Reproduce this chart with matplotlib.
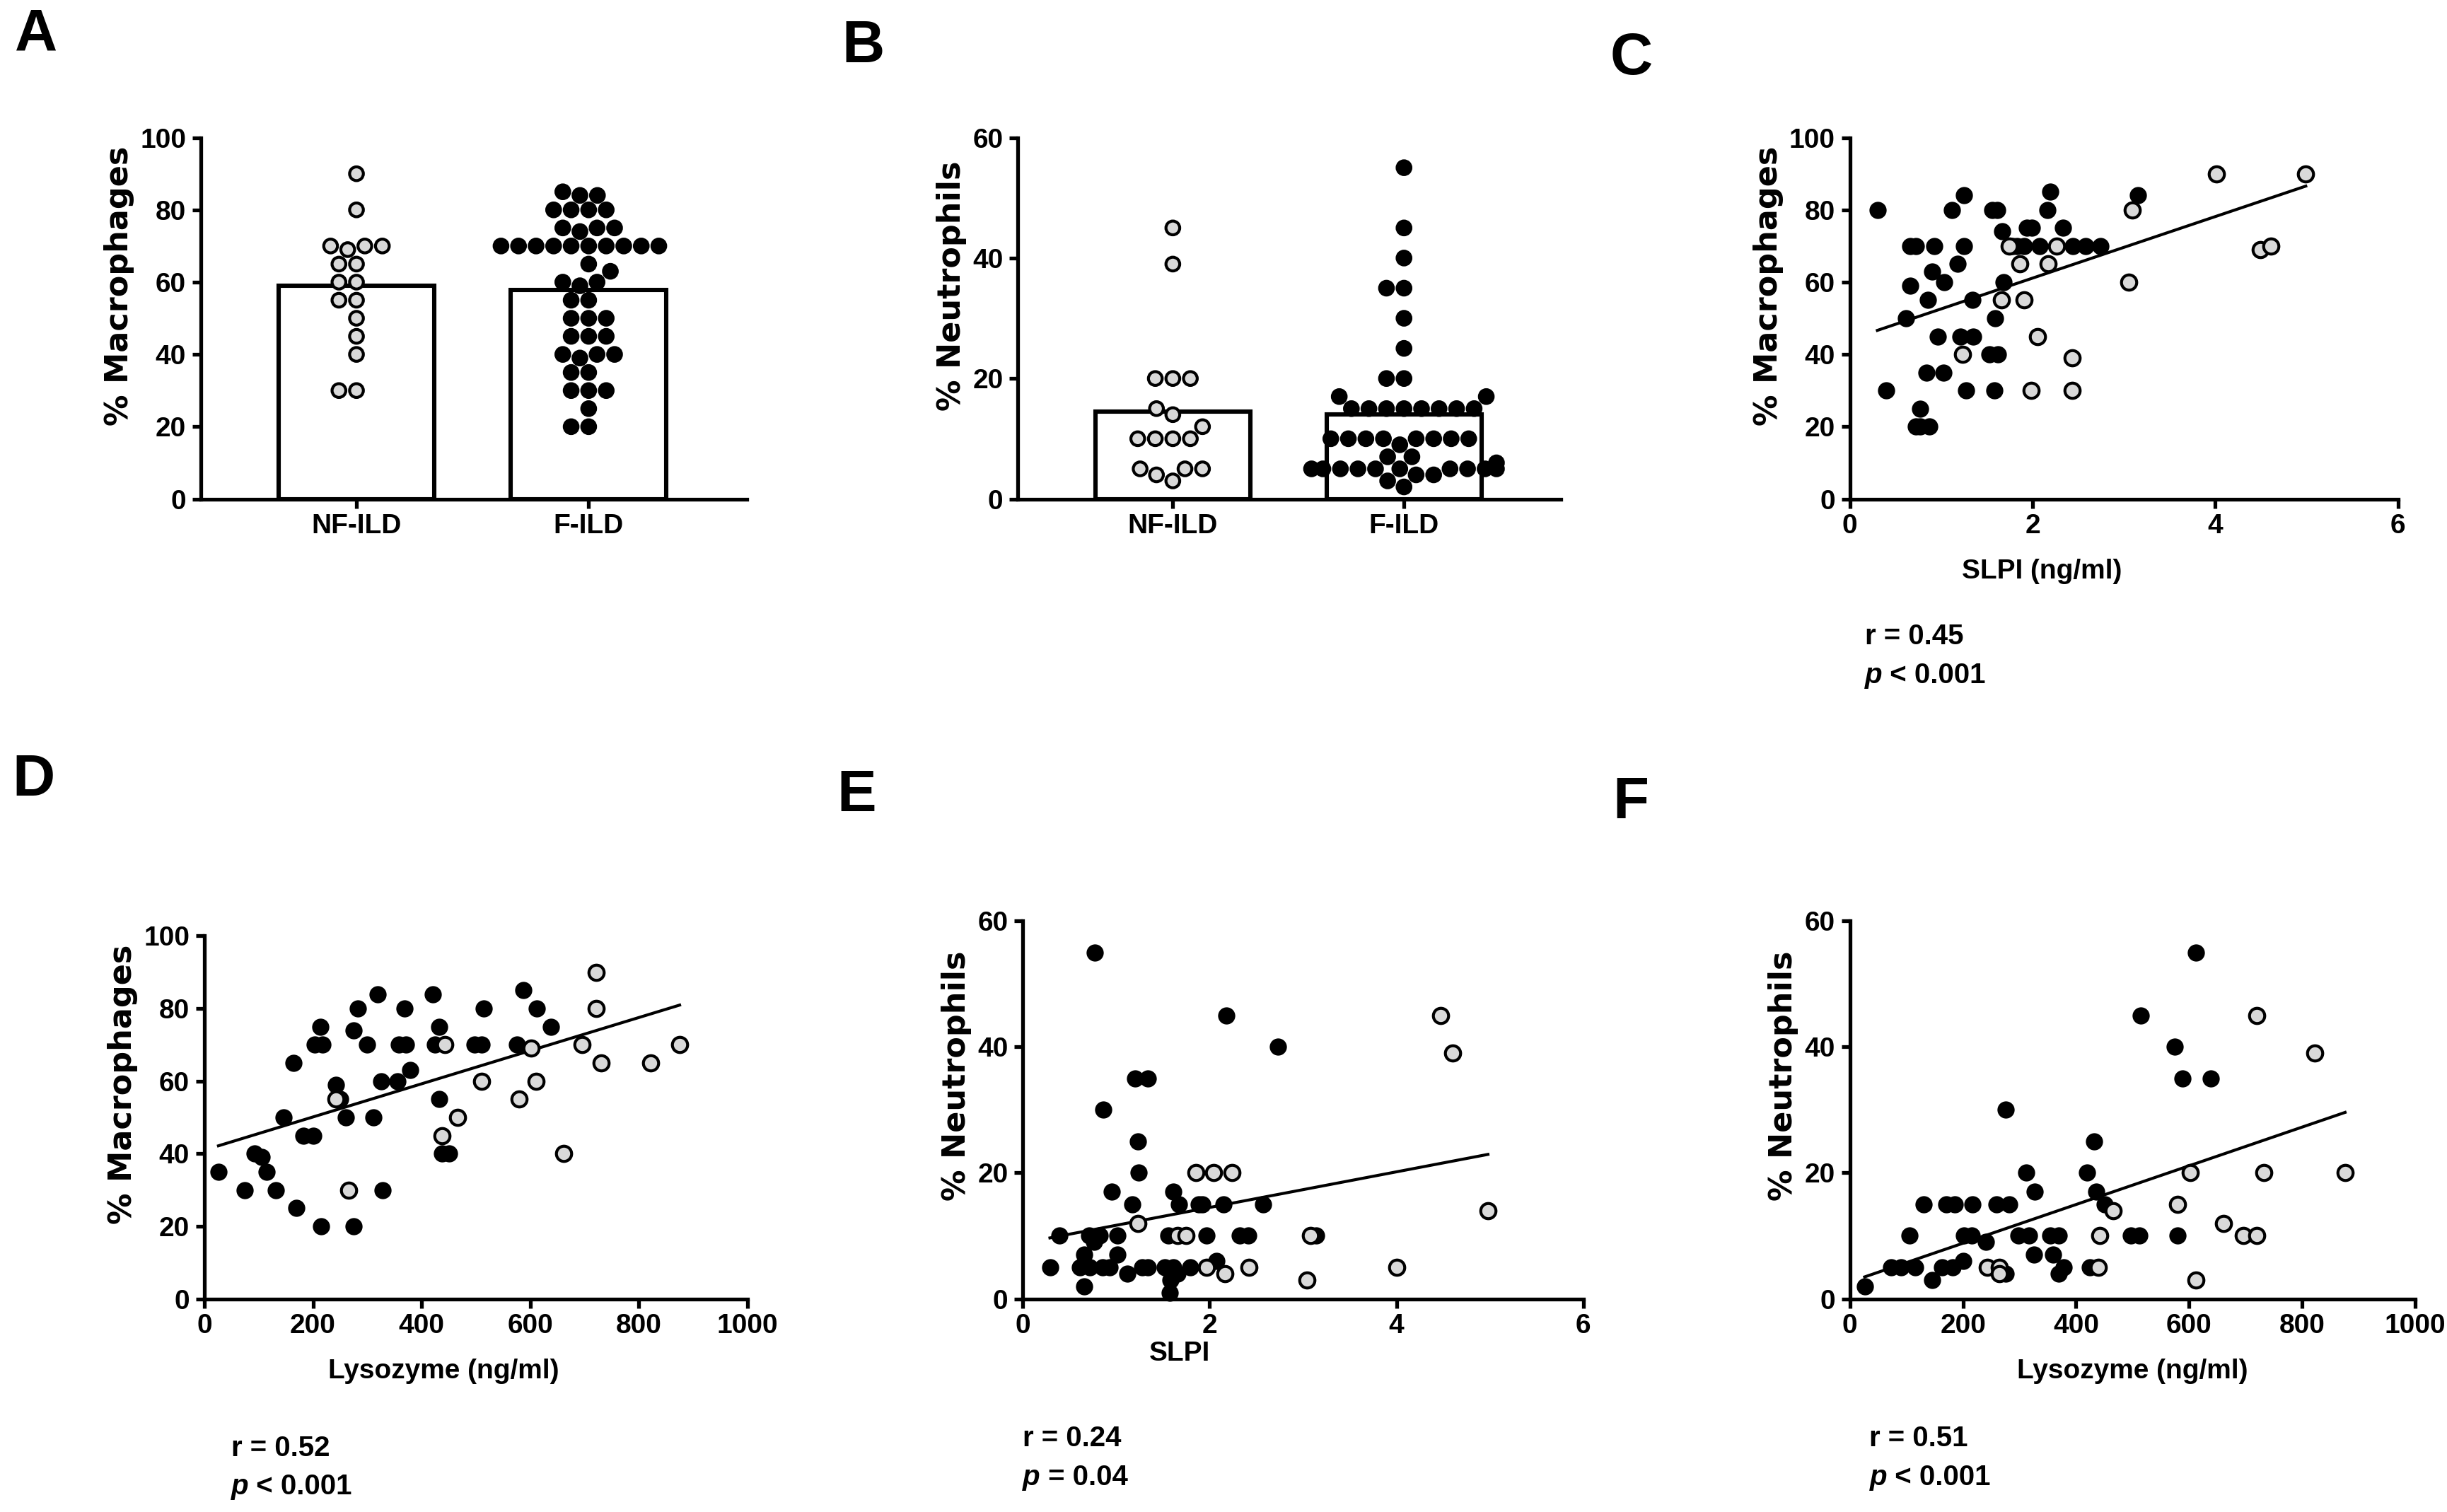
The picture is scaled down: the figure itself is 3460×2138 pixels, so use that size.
import numpy as np
import pandas as pd
import matplotlib.pyplot as plt
import seaborn as sns

# A, B: клеточный состав по группам
groups = ['NF-ILD', 'F-ILD']
mac_nf = [90, 80, 70, 70, 70, 69, 65, 65, 60, 60, 55, 55, 50, 45, 40, 30, 30]
mac_f = [85, 84, 84, 80, 80, 80, 80, 75, 75, 75, 74,
         70, 70, 70, 70, 70, 70, 70, 70, 70, 70,
         65, 63, 60, 60, 59, 55, 55, 50, 50, 50, 45, 45, 45,
         40, 40, 40, 39, 35, 35, 30, 30, 30, 25, 20, 20]
neu_nf = [45, 39, 20, 20, 20, 15, 14, 12, 10, 10, 10, 10, 5, 5, 5, 4, 3]
neu_f = [55, 45, 40, 35, 35, 30, 25, 20, 20, 17, 17,
         15, 15, 15, 15, 15, 15, 15, 15,
         10, 10, 10, 10, 10, 10, 10, 10, 9, 7, 7, 6,
         5, 5, 5, 5, 5, 5, 5, 5, 5, 5, 4, 4, 3, 2]

# C: SLPI vs % макрофагов
c_f_x = [0.30, 0.40, 0.61, 0.66, 0.66, 0.72, 0.77, 0.72, 0.77, 0.87, 0.84, 0.85, 0.90, 0.92,
         0.96, 1.02, 1.03, 1.12, 1.18, 1.21, 1.25, 1.25, 1.27, 1.34, 1.35, 1.53, 1.62, 1.56,
         1.61, 1.58, 1.59, 1.67, 1.68, 1.78, 1.83, 1.91, 1.94, 1.99, 2.08, 2.16, 2.19, 2.33,
         2.44, 2.58, 2.74, 3.15]
c_f_y = [80, 30, 50, 59, 70, 70, 25, 20, 20, 20, 35, 55, 63, 70,
         45, 35, 60, 80, 65, 45, 84, 70, 30, 55, 45, 40, 40, 80,
         80, 30, 50, 74, 60, 70, 70, 70, 75, 75, 70, 80, 85, 75,
         70, 70, 70, 84]
c_nf_x = [1.23, 1.66, 1.74, 1.86, 1.91, 1.98, 2.05, 2.17, 2.26, 2.43, 2.43, 3.05, 3.09,
          4.01, 4.49, 4.61, 4.99]
c_nf_y = [40, 55, 70, 65, 55, 30, 45, 65, 70, 39, 30, 60, 80, 90, 69, 70, 90]

# D: лизоцим vs % макрофагов
d_f_x = [26, 74, 93, 106, 115, 131, 146, 164, 170, 182, 200, 203, 218, 213, 215, 242, 250,
         260, 275, 275, 283, 299, 311, 319, 326, 328, 356, 358, 371, 369, 379, 420, 425,
         432, 432, 437, 450, 497, 511, 515, 575, 587, 612, 638]
d_f_y = [35, 30, 40, 39, 35, 30, 50, 65, 25, 45, 45, 70, 70, 75, 20, 59, 55,
         50, 74, 20, 80, 70, 50, 84, 60, 30, 60, 70, 70, 80, 63, 84, 70,
         75, 55, 40, 40, 70, 70, 80, 70, 85, 80, 75]
d_nf_x = [242, 266, 443, 437, 466, 510, 579, 602, 611, 662, 695, 721, 721, 731, 821, 875]
d_nf_y = [55, 30, 70, 45, 50, 60, 55, 69, 60, 40, 70, 90, 80, 65, 65, 70]

# E: SLPI vs % нейтрофилов
e_f_x = [0.77, 2.18, 2.73, 1.20, 1.34, 0.86, 1.23, 1.24, 0.95, 1.61, 1.17, 1.67, 1.88, 1.92,
         2.15, 2.57, 0.39, 0.71, 0.82, 0.76, 1.01, 1.56, 1.97, 2.32, 2.41, 3.14, 0.66, 1.01,
         2.07, 0.29, 0.61, 0.72, 0.85, 0.93, 1.12, 1.28, 1.34, 1.52, 1.61, 1.66, 1.79, 1.58,
         0.66, 1.57]
e_f_y = [55, 45, 40, 35, 35, 30, 25, 20, 17, 17, 15, 15, 15, 15,
         15, 15, 10, 10, 10, 9, 10, 10, 10, 10, 10, 10, 7, 7,
         6, 5, 5, 5, 5, 5, 4, 5, 5, 5, 5, 4, 5, 3,
         2, 1]
e_nf_x = [4.47, 4.60, 1.23, 1.85, 2.04, 2.24, 1.66, 1.75, 3.08, 4.98, 1.97, 2.16, 2.42, 4.00, 3.04]
e_nf_y = [45, 39, 12, 20, 20, 20, 10, 10, 10, 14, 5, 4, 5, 5, 3]

# F: лизоцим vs % нейтрофилов
f_f_x = [26, 73, 91, 115, 106, 131, 146, 163, 182, 170, 185, 200, 202, 215, 217, 241, 259,
         282, 275, 275, 298, 317, 312, 327, 326, 354, 369, 359, 369, 378, 420, 432, 436,
         451, 425, 497, 512, 515, 575, 588, 580, 612, 639]
f_f_y = [2, 5, 5, 5, 10, 15, 3, 5, 5, 15, 15, 6, 10, 10, 15, 9, 15,
         15, 30, 4, 10, 10, 20, 17, 7, 10, 10, 7, 4, 5, 20, 25, 17,
         15, 5, 10, 10, 45, 40, 35, 10, 55, 35]
f_nf_x = [243, 264, 264, 439, 442, 466, 580, 602, 612, 661, 696, 720, 720, 732, 822, 876]
f_nf_y = [5, 5, 4, 5, 10, 14, 15, 20, 3, 12, 10, 10, 45, 20, 39, 20]

stats_c = ['r = 0.45', ' < 0.001']
stats_d = ['r = 0.52', ' < 0.001']
stats_e = ['r = 0.24', ' = 0.04']
stats_f = ['r = 0.51', ' < 0.001']

GREY = '#d9d9d9'
plt.rcParams['font.family'] = ['Liberation Sans', 'DejaVu Sans']
plt.rcParams['font.weight'] = 'bold'
plt.rcParams['axes.labelweight'] = 'bold'
plt.rcParams['font.size'] = 14

fig = plt.figure(figsize=(17.3, 10.69), dpi=200)


def style_axes(ax, ylabel):
    for s in ['top', 'right']:
        ax.spines[s].set_visible(False)
    for s in ['left', 'bottom']:
        ax.spines[s].set_linewidth(1.9)
    ax.tick_params(width=1.9, length=4.5, labelsize=14, pad=3)
    ax.set_ylabel(ylabel, family='DejaVu Sans', fontsize=16, fontweight='bold', labelpad=3)
    # подпись оси у GraphPad сдвинута чуть вверх
    ax.yaxis.label.set_y(0.59)


def bar_panel(rect, nf, f, ylabel, ymax):
    ax = fig.add_axes(rect)
    ax.bar([0, 1], [np.mean(nf), np.mean(f)], width=0.67, color='white',
           edgecolor='black', linewidth=2.2, zorder=1)
    df = pd.DataFrame({'grp': ['NF-ILD'] * len(nf) + ['F-ILD'] * len(f), 'val': nf + f})
    sns.swarmplot(data=df, x='grp', y='val', hue='grp', order=groups,
                  palette={'NF-ILD': GREY, 'F-ILD': 'black'}, edgecolor='black',
                  linewidth=1.5, size=7.0, legend=False, ax=ax, zorder=3, clip_on=False)
    ax.set_xlim(-0.67, 1.68)
    ax.set_ylim(0, ymax)
    ax.set_yticks(np.arange(0, ymax + 1, 20))
    ax.set_xticks([0, 1])
    ax.set_xticklabels(groups)
    ax.set_xlabel('')
    style_axes(ax, ylabel)
    return ax


def scatter_panel(rect, fx, fy, nx, ny, xlabel, xlab_pos, xlab_pad, ylabel, xmax, xstep, ymax):
    ax = fig.add_axes(rect)
    ax.scatter(fx, fy, s=60, color='black', zorder=3, clip_on=False)
    ax.scatter(nx, ny, s=60, color=GREY, edgecolor='black', linewidth=1.5, zorder=3, clip_on=False)
    xs = np.array(fx + nx)
    ys = np.array(fy + ny)
    k, b = np.polyfit(xs, ys, 1)
    xl = np.array([xs.min(), xs.max()])
    ax.plot(xl, k * xl + b, color='black', linewidth=1.5, zorder=2)
    ax.set_xlim(0, xmax)
    ax.set_ylim(0, ymax)
    ax.set_xticks(np.arange(0, xmax + 0.1, xstep))
    ax.set_yticks(np.arange(0, ymax + 1, 20))
    ax.set_xlabel(xlabel, fontsize=14, labelpad=xlab_pad)
    ax.xaxis.label.set_x(xlab_pos)
    style_axes(ax, ylabel)
    return ax


bar_panel([0.0821, 0.670, 0.223, 0.239], mac_nf, mac_f, '% Macrophages', 100)
bar_panel([0.416, 0.670, 0.222, 0.239], neu_nf, neu_f, '% Neutrophils', 60)
scatter_panel([0.756, 0.670, 0.224, 0.239], c_f_x, c_f_y, c_nf_x, c_nf_y,
              'SLPI (ng/ml)', 0.35, 10, '% Macrophages', 6, 2, 100)
scatter_panel([0.0835, 0.141, 0.222, 0.240], d_f_x, d_f_y, d_nf_x, d_nf_y,
              'Lysozyme (ng/ml)', 0.44, 10, '% Macrophages', 1000, 200, 100)
scatter_panel([0.418, 0.141, 0.229, 0.250], e_f_x, e_f_y, e_nf_x, e_nf_y,
              'SLPI', 0.28, 1, '% Neutrophils', 6, 2, 60)
scatter_panel([0.756, 0.141, 0.231, 0.250], f_f_x, f_f_y, f_nf_x, f_nf_y,
              'Lysozyme (ng/ml)', 0.50, 10, '% Neutrophils', 1000, 200, 60)

# подписи r и p
for (x, y), st in zip([(0.762, 0.579), (0.0944, 0.0423), (0.418, 0.0485), (0.764, 0.0485)],
                      [stats_c, stats_d, stats_e, stats_f]):
    fig.text(x, y, st[0], fontsize=14.5, va='center')
    t = fig.text(x, y - 0.0255, 'p', fontsize=14.5, style='italic', va='center')
    fig.canvas.draw()
    bb = t.get_window_extent().transformed(fig.transFigure.inverted())
    fig.text(bb.x1, y - 0.0255, st[1], fontsize=14.5, va='center')

# буквы панелей
for x, y, s in [(0.006, 0.977, 'A'), (0.344, 0.969, 'B'), (0.658, 0.961, 'C'),
                (0.005, 0.484, 'D'), (0.342, 0.474, 'E'), (0.659, 0.469, 'F')]:
    fig.text(x, y, s, fontsize=30, fontweight='bold', va='center', ha='left')

fig.savefig('out.png', dpi=200)
